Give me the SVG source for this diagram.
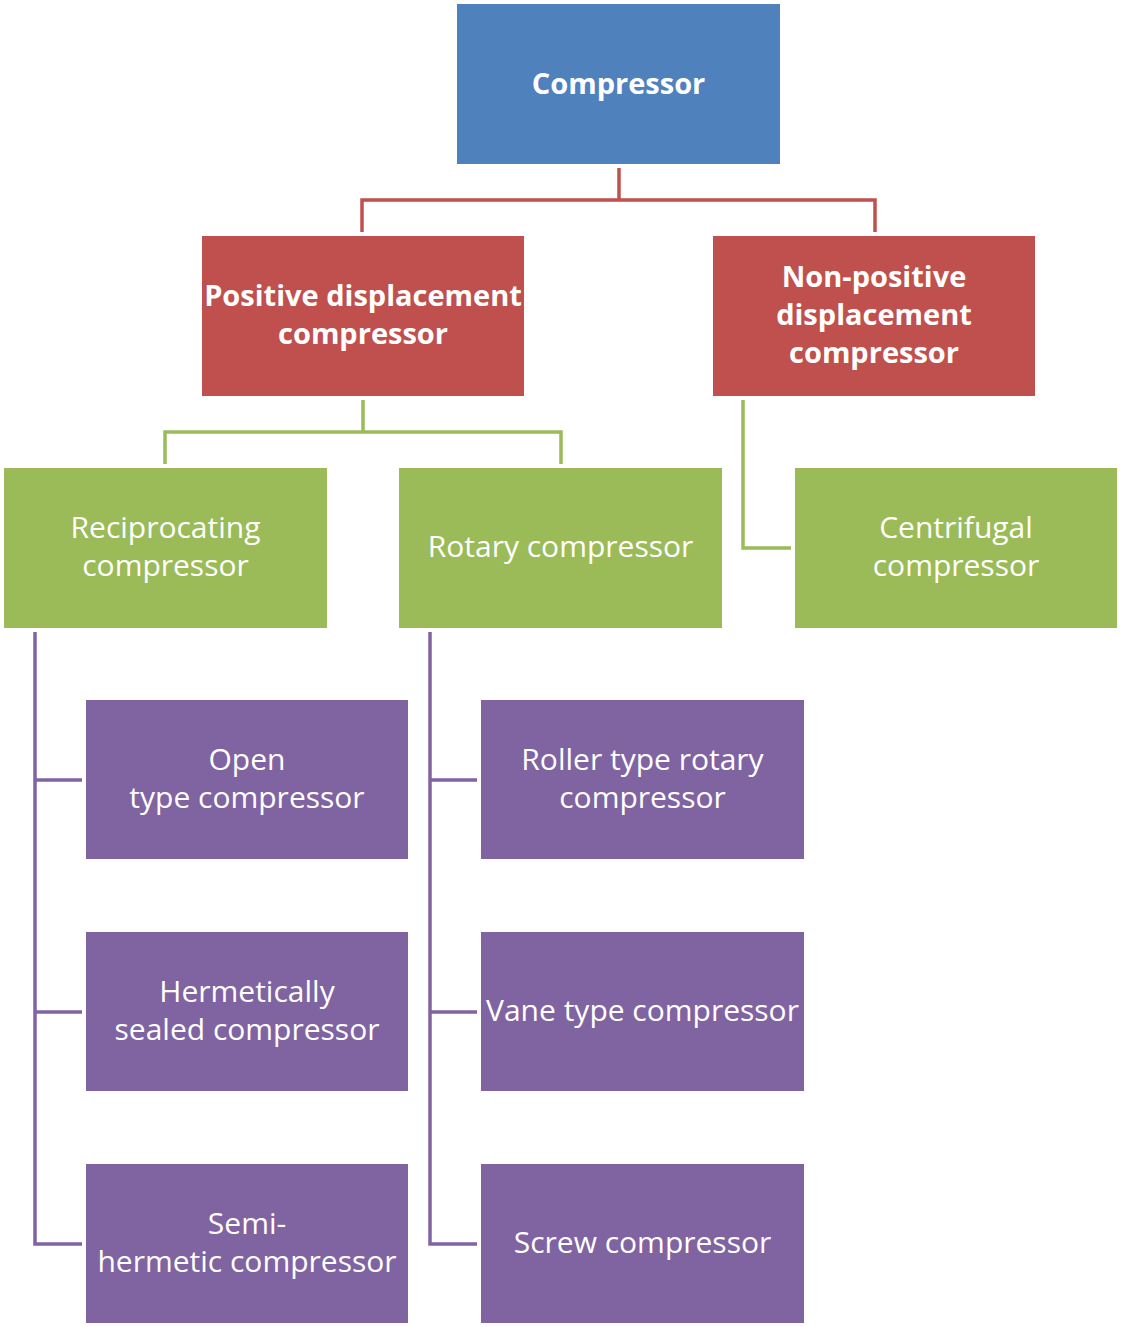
<svg xmlns="http://www.w3.org/2000/svg" width="1121" height="1327" viewBox="0 0 1121 1327">
<style>
text{font-family:"Open Sans","Noto Sans","Liberation Sans",sans-serif;fill:#fff;text-anchor:middle;font-size:30px}
.b{font-weight:bold;font-size:29px}
.blue{fill:#4F81BD}.red{fill:#C0504D}.green{fill:#9BBB59}.purple{fill:#8064A2}
.cr,.cg,.cp{fill:none;stroke-width:3.5}
.cr{stroke:#C0504D}.cg{stroke:#9BBB59}.cp{stroke:#8064A2}
</style>
<rect width="1121" height="1327" fill="#fff"/>
<g id="connectors">
<path class="cr" d="M619 168V200M362 232V200H875V232"/>
<path class="cg" d="M363 400V432M165 464V432H561V464"/>
<path class="cg" d="M743 400V548H791"/>
<path class="cp" d="M35 632V1244H82M35 780H82M35 1012H82"/>
<path class="cp" d="M430 632V1244H477M430 780H477M430 1012H477"/>
</g>
<g id="compressor"><rect class="blue" x="457" y="4" width="323" height="160"/><text class="b" x="618.5" y="94">Compressor</text></g>
<g id="positive"><rect class="red" x="202" y="236" width="322" height="160"/><text class="b" x="363" y="306">Positive displacement</text><text class="b" x="363" y="344">compressor</text></g>
<g id="nonpositive"><rect class="red" x="713" y="236" width="322" height="160"/><text class="b" x="874" y="287">Non-positive</text><text class="b" x="874" y="325">displacement</text><text class="b" x="874" y="363">compressor</text></g>
<g id="reciprocating"><rect class="green" x="4" y="468" width="323" height="160"/><text x="165.5" y="538">Reciprocating</text><text x="165.5" y="576">compressor</text></g>
<g id="rotary"><rect class="green" x="399" y="468" width="323" height="160"/><text x="560.5" y="557">Rotary compressor</text></g>
<g id="centrifugal"><rect class="green" x="795" y="468" width="322" height="160"/><text x="956" y="538">Centrifugal</text><text x="956" y="576">compressor</text></g>
<g id="open"><rect class="purple" x="86" y="700" width="322" height="159"/><text x="247" y="770">Open</text><text x="247" y="808">type compressor</text></g>
<g id="hermetic"><rect class="purple" x="86" y="932" width="322" height="159"/><text x="247" y="1002">Hermetically</text><text x="247" y="1040">sealed compressor</text></g>
<g id="semi"><rect class="purple" x="86" y="1164" width="322" height="159"/><text x="247" y="1234">Semi-</text><text x="247" y="1272">hermetic compressor</text></g>
<g id="roller"><rect class="purple" x="481" y="700" width="323" height="159"/><text x="642.5" y="770">Roller type rotary</text><text x="642.5" y="808">compressor</text></g>
<g id="vane"><rect class="purple" x="481" y="932" width="323" height="159"/><text x="642.5" y="1021">Vane type compressor</text></g>
<g id="screw"><rect class="purple" x="481" y="1164" width="323" height="159"/><text x="642.5" y="1253">Screw compressor</text></g>
</svg>
